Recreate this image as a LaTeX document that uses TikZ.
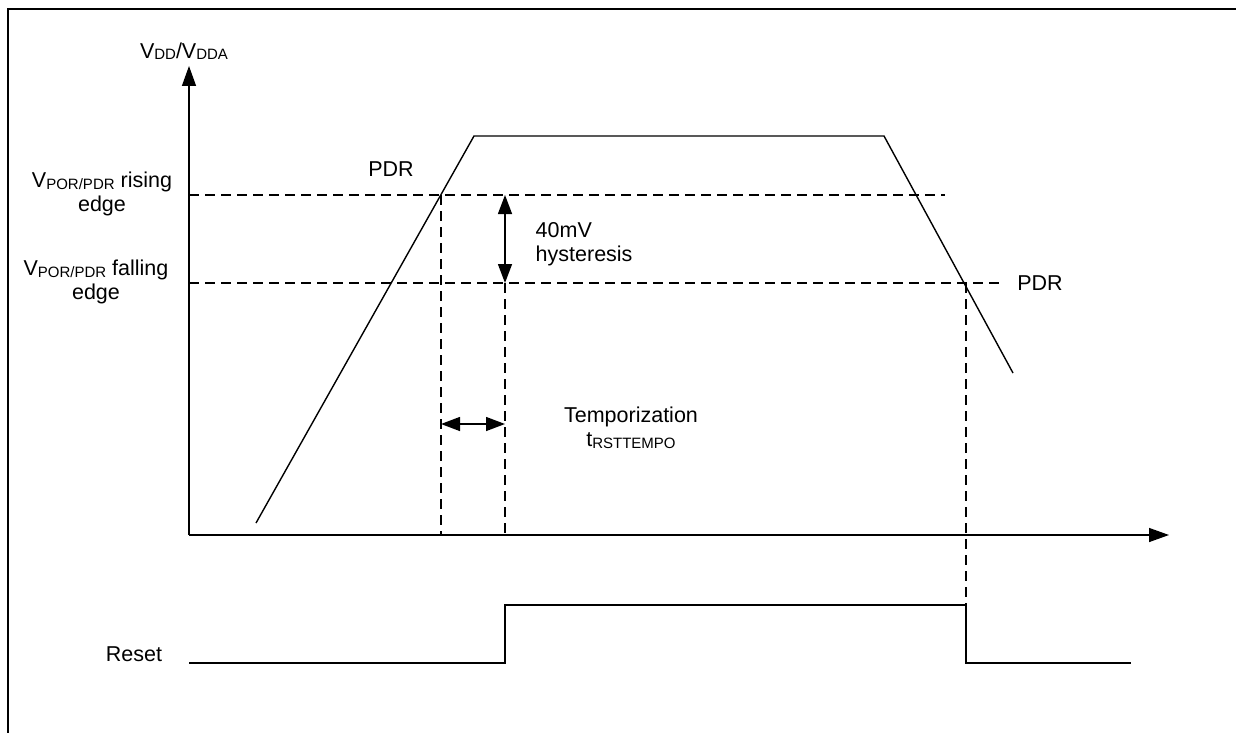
\documentclass[tikz,border=0pt]{standalone}
\usepackage{fontspec}
\setmainfont{Liberation Sans}
\usetikzlibrary{arrows.meta}
\newcommand{\lowsub}[1]{\raisebox{-1.5pt}{\fontsize{15}{15}\selectfont #1}}
\begin{document}
\begin{tikzpicture}[x=1pt,y=-1pt,
  line width=1.4pt,
  lbl/.style={inner sep=0pt,font=\fontsize{21.5}{24}\selectfont},
  axis/.style={-{Triangle[length=20pt,width=14pt]}},
  dashline/.style={line width=1.2pt,dash pattern=on 10pt off 6pt},
  dimarrow/.style={{Triangle[length=19pt,width=14pt]}-{Triangle[length=19pt,width=14pt]}},
  signal/.style={line width=1.4pt}]
\useasboundingbox (0,0) rectangle (1236,733);
% frame
\coordinate (fbl) at (8,740);
\coordinate (ftl) at (8,9);
\coordinate (ftr) at (1240,9);
\draw[line width=1.8pt] (fbl) -- (ftl) -- (ftr);
% axes
\coordinate (O) at (189,535);
\coordinate (ytop) at (189,66);
\coordinate (xend) at (1169,535);
\draw[axis] (O) -- (ytop);
\draw[axis] (O) -- (xend);
% key points
\coordinate (r0) at (256,523);
\coordinate (r1) at (474,136);
\coordinate (f0) at (884,136);
\coordinate (f1) at (1013,373);
\coordinate (rx) at (441,195);
\coordinate (fx) at (966,283);
\coordinate (hyT) at (505,195);
\coordinate (hyB) at (505,283);
% thresholds
\coordinate (riseL) at (189,195);
\coordinate (riseR) at (945,195);
\coordinate (fallL) at (189,283);
\coordinate (fallR) at (1001,283);
\draw[dashline] (riseL) -- (riseR);
\draw[dashline] (fallL) -- (fallR);
% vdd curve
\draw[signal] (r0) -- (r1) -- (f0) -- (f1);
% vertical dashed
\coordinate (rxB) at (441,535);
\coordinate (hyX) at (505,535);
\coordinate (fxB) at (966,605);
\draw[dashline] (rx) -- (rxB);
\draw[dashline] (hyB) -- (hyX);
\draw[dashline] (fx) -- (fxB);
% hysteresis arrow
\draw[dimarrow] (hyT) -- (hyB);
% temporization arrow
\coordinate (tL) at (441,424);
\coordinate (tR) at (505,424);
\draw[dimarrow] (tL) -- (tR);
% reset signal
\coordinate (s0) at (189,663);
\coordinate (s1) at (505,663);
\coordinate (s2) at (505,605);
\coordinate (s3) at (966,605);
\coordinate (s4) at (966,663);
\coordinate (s5) at (1131,663);
\draw[signal] (s0) -- (s1) -- (s2) -- (s3) -- (s4) -- (s5);
% labels
\node[lbl] (vdd) at (184,51) {V\lowsub{DD}/V\lowsub{DDA}};
\node[lbl,align=center] (rise) at (102,194) {V\lowsub{POR/PDR} rising\\edge};
\node[lbl,align=center] (fall) at (96,282) {V\lowsub{POR/PDR} falling\\edge};
\node[lbl] (pdr1) at (391,169) {PDR};
\node[lbl] (pdr2) at (1040,283) {PDR};
\node[lbl,align=left,anchor=west] (hys) at (535,244) {40mV\\hysteresis};
\node[lbl,align=center] (tempo) at (631,428) {Temporization\\t\lowsub{RSTTEMPO}};
\node[lbl] (reset) at (134,654) {Reset};
\end{tikzpicture}
\end{document}
